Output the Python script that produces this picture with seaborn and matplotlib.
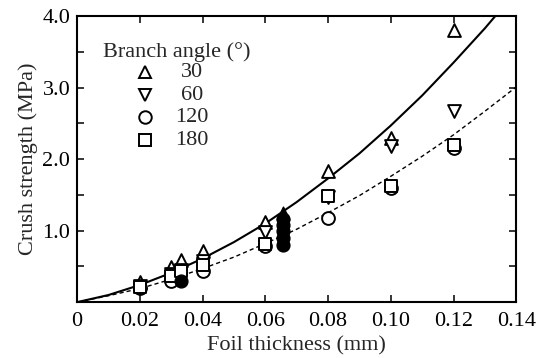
import numpy as np
import pandas as pd
import matplotlib
matplotlib.use("Agg")
import matplotlib.pyplot as plt
import seaborn as sns

# Crush strength (MPa), per branch angle
x_30 = [0.020, 0.030, 0.033, 0.040, 0.060, 0.080, 0.100, 0.120]
y_30 = [0.28, 0.49, 0.59, 0.71, 1.12, 1.83, 2.30, 3.80]

x_60 = [0.020, 0.030, 0.033, 0.040, 0.060, 0.080, 0.100, 0.120]
y_60 = [0.22, 0.40, 0.45, 0.58, 0.98, 1.47, 2.18, 2.68]

x_120 = [0.020, 0.030, 0.040, 0.060, 0.080, 0.100, 0.120]
y_120 = [0.20, 0.30, 0.44, 0.78, 1.18, 1.60, 2.15]

x_180 = [0.020, 0.030, 0.033, 0.040, 0.060, 0.080, 0.100, 0.120]
y_180 = [0.21, 0.37, 0.43, 0.52, 0.82, 1.49, 1.62, 2.20]

# filled symbols
x_fill = [0.033, 0.0655, 0.0655, 0.0655, 0.0655, 0.0655]
y_fill = [0.30, 0.80, 0.90, 1.00, 1.08, 1.16]
x_fill_tri = [0.0655]
y_fill_tri = [1.25]

# fitted curves
curve_x = [0, 0.01, 0.02, 0.03, 0.04, 0.05, 0.06, 0.07, 0.08, 0.09, 0.10, 0.11, 0.12, 0.13, 0.1333]
solid_y = [0, 0.10, 0.24, 0.41, 0.61, 0.84, 1.10, 1.40, 1.73, 2.08, 2.47, 2.89, 3.35, 3.83, 4.0]
dash_x = [0, 0.01, 0.02, 0.03, 0.04, 0.05, 0.06, 0.07, 0.08, 0.09, 0.10, 0.11, 0.12, 0.13, 0.14]
dash_y = [0, 0.09, 0.19, 0.32, 0.47, 0.63, 0.82, 1.02, 1.25, 1.49, 1.76, 2.04, 2.34, 2.67, 3.01]

angles = ["30", "60", "120", "180"]
markers = ["^", "v", "o", "s"]

sns.set_style("ticks")
plt.rcParams["font.family"] = ["Liberation Serif", "DejaVu Serif"]
FS = 16

fig = plt.figure(figsize=(5.51, 3.58), dpi=100)
ax = fig.add_axes([0.140, 0.156, 0.797, 0.799])

sns.lineplot(x=curve_x, y=solid_y, ax=ax, color="black", lw=1.5)
sns.lineplot(x=dash_x, y=dash_y, ax=ax, color="black", lw=1.0, dashes=False,
             linestyle=(0, (3, 2.2)))

series = [(x_30, y_30), (x_60, y_60), (x_120, y_120), (x_180, y_180)]
for (xs, ys), m in zip(series, markers):
    sns.scatterplot(x=xs, y=ys, ax=ax, marker=m, s=85, color="white",
                    edgecolor="black", linewidth=1.4, zorder=3)
sns.scatterplot(x=x_fill, y=y_fill, ax=ax, marker="o", s=85, color="black",
                edgecolor="black", linewidth=1.0, zorder=4)
sns.scatterplot(x=x_fill_tri, y=y_fill_tri, ax=ax, marker="^", s=85, color="black",
                edgecolor="black", linewidth=1.0, zorder=4)

ax.set_xlim(0, 0.14)
ax.set_ylim(0, 4.0)
xt = np.arange(0, 0.141, 0.02)
ax.set_xticks(xt)
ax.set_xticklabels(["0"] + [f"{v:.2f}" for v in xt[1:]])
ax.set_yticks([1.0, 2.0, 3.0, 4.0])
ax.set_yticklabels(["1.0", "2.0", "3.0", "4.0"])
ax.set_yticks([0.5, 1.5, 2.5, 3.5], minor=True)
ax.tick_params(which="both", direction="in", top=True, right=True,
               length=5, width=1.1, labelsize=FS, colors="black")
ax.tick_params(axis="x", pad=7)
ax.tick_params(axis="y", pad=5)
for sp in ax.spines.values():
    sp.set_linewidth(1.5)
    sp.set_color("black")

ax.set_xlabel("Foil thickness (mm)", fontsize=FS, labelpad=4)
ax.set_ylabel("Crush strength (MPa)", fontsize=FS, labelpad=3)

# legend drawn by hand, like the original
ax.text(0.059, 0.874, "Branch angle (°)", transform=ax.transAxes,
        fontsize=FS, ha="left", va="center")
rows = [0.804, 0.724, 0.646, 0.566]
for lab, m, ry in zip(angles, markers, rows):
    ax.plot([0.155], [ry], transform=ax.transAxes, marker=m, ms=9,
            mfc="white", mec="black", mew=1.4, ls="none", clip_on=False)
    ax.text(0.262, ry, lab, transform=ax.transAxes, fontsize=FS,
            ha="center", va="center")

fig.savefig("out.png", dpi=100)
